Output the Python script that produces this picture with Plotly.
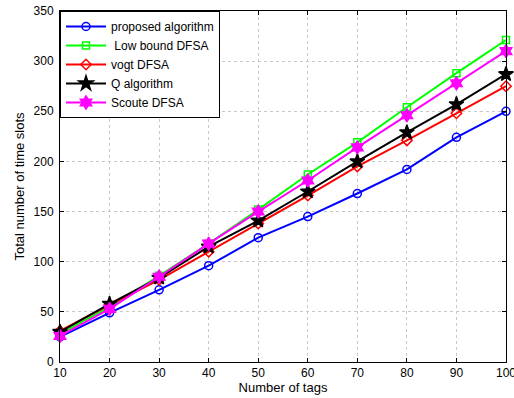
import plotly.graph_objects as go

tags = [10, 20, 30, 40, 50, 60, 70, 80, 90, 100]
proposed = [25, 49, 72, 96, 124, 145, 168, 192, 224, 250]
low_bound = [28, 55, 86, 118, 152, 187, 219, 254, 288, 321]
vogt = [31, 57, 82, 110, 138, 166, 195, 221, 248, 275]
q_alg = [30, 58, 84, 115, 141, 170, 200, 229, 257, 287]
scoute = [26, 53, 85, 118, 150, 181, 214, 246, 278, 310]

series = [
    ("proposed algorithm", proposed, "#0000ff", "circle-open", 8),
    (" Low bound DFSA", low_bound, "#00ff00", "square-open", 7),
    ("vogt DFSA", vogt, "#ff0000", "diamond-open", 8),
    ("Q algorithm", q_alg, "#000000", "star", 11),
    ("Scoute DFSA", scoute, "#ff00ff", "hexagram", 10),
]

fig = go.Figure()
for name, vals, color, sym, size in series:
    fig.add_trace(go.Scatter(
        x=tags, y=vals, name=name, mode="lines+markers",
        line=dict(color=color, width=2),
        marker=dict(symbol=sym, size=size, color=color, line=dict(color=color, width=1.5)),
        cliponaxis=False,
    ))

axis_common = dict(
    showline=True, linecolor="black", linewidth=1, mirror="allticks",
    ticks="inside", ticklen=4, tickcolor="black",
    showgrid=True, gridcolor="#c8c8c8", griddash="dot", gridwidth=1,
    zeroline=False, tickfont=dict(size=12, color="black"), automargin=False,
    ticklabeloverflow="allow",
)

fig.update_layout(
    width=514, height=398,
    margin=dict(l=60, r=8, t=11, b=36),
    paper_bgcolor="white", plot_bgcolor="white",
    font=dict(family="Liberation Sans, Arial, sans-serif", size=12, color="black"),
    showlegend=True,
    legend=dict(x=0, y=1, xanchor="left", yanchor="top", bgcolor="white",
                bordercolor="black", borderwidth=1, font=dict(size=12),
                itemwidth=40, tracegroupgap=0),
    xaxis=dict(range=[10, 100], tickvals=tags,
               title=dict(text="Number of tags", standoff=2, font=dict(size=13)),
               **axis_common),
    yaxis=dict(range=[0, 350], dtick=50, ticklabelstandoff=3,
               title=dict(text="Total number of time slots", standoff=6, font=dict(size=13)),
               **axis_common),
)

fig.write_html(
    "out.html",
    config={"displayModeBar": False},
    post_script="document.body.style.margin='0';document.body.style.overflow='hidden';",
)
